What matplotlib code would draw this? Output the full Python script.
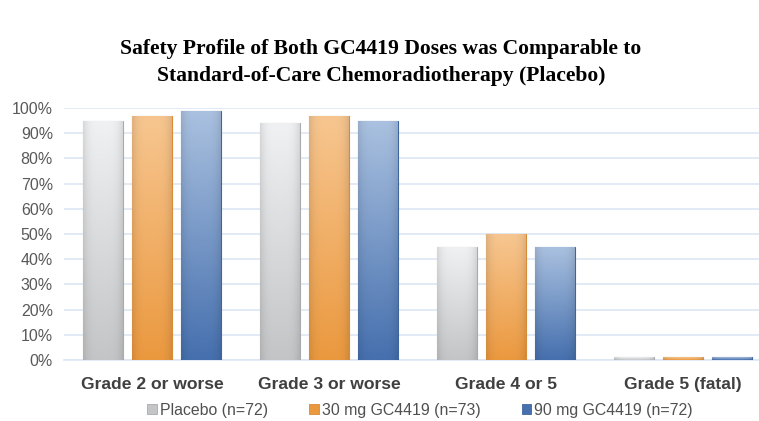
import numpy as np
import matplotlib.pyplot as plt
from matplotlib.colors import to_rgb

categories = ['Grade 2 or worse', 'Grade 3 or worse', 'Grade 4 or 5', 'Grade 5 (fatal)']
series_names = ['Placebo (n=72)', '30 mg GC4419 (n=73)', '90 mg GC4419 (n=72)']
placebo = [95, 94, 45, 1]
dose_30 = [97, 97, 50, 1]
dose_90 = [99, 95, 45, 1]

# top colour, bottom colour, edge colour
palettes = [('#f0f1f3', '#c4c5c7', '#a9aaac'),
            ('#f7c690', '#eb993f', '#d98a36'),
            ('#aac1e0', '#4670ae', '#3f659e')]


def shade_bar(ax, bar, top, bottom, edge):
    x, y = bar.get_x(), bar.get_y()
    w, h = bar.get_width(), bar.get_height()
    t = np.array(to_rgb(top))
    b = np.array(to_rgb(bottom))
    v = np.linspace(0, 1, 64)[:, None, None]
    img = t * (1 - v) + b * v
    # slightly darker at the sides
    u = np.linspace(-1, 1, 32)
    side = 1 - 0.10 * np.abs(u) ** 4
    img = np.clip(img * side[None, :, None], 0, 1)
    im = ax.imshow(img, extent=[x, x + w, y, y + h], aspect='auto',
                   origin='upper', zorder=3, interpolation='bilinear')
    im.set_clip_path(bar)
    bar.set_facecolor('none')
    bar.set_edgecolor(edge)
    bar.set_linewidth(0.8)


fig = plt.figure(figsize=(7.59, 4.21), dpi=100)
ax = fig.add_axes([64 / 759, 1 - 360 / 421, 707 / 759, 252 / 421])

x = np.arange(len(categories))
width = 0.226
step = 0.277
values = [placebo, dose_30, dose_90]
for i, vals in enumerate(values):
    bars = ax.bar(x + (i - 1) * step, vals, width, label=series_names[i],
                  color=palettes[i][1], zorder=3)
    for bar in bars:
        shade_bar(ax, bar, *palettes[i])

ax.set_xlim(-0.5, len(categories) - 0.5)
ax.set_ylim(0, 100)
ax.set_yticks(range(0, 101, 10))
ax.set_yticklabels([f'{v}%' for v in range(0, 101, 10)],
                   fontsize=11.5, color='#595959', family='Liberation Sans')
ax.set_xticks(x)
ax.set_xticklabels(categories, fontsize=12.6, fontweight='bold',
                   color='#404040', family='Liberation Sans')
ax.tick_params(axis='both', length=0)
ax.tick_params(axis='y', pad=8)
ax.tick_params(axis='x', pad=12)
ax.yaxis.grid(True, color='#dde7f3', linewidth=1.2, zorder=0)
ax.set_axisbelow(True)
for s in ['top', 'right', 'left']:
    ax.spines[s].set_visible(False)
ax.spines['bottom'].set_color('#dde7f3')
ax.spines['bottom'].set_linewidth(1.2)

handles = [plt.Rectangle((0, 0), 1, 1, facecolor=p[1], edgecolor=p[2], linewidth=0.6)
           for p in palettes]
fig.legend(handles, series_names, loc='center', bbox_to_anchor=(420 / 759, 1 - 410 / 421),
           ncol=3, frameon=False, prop={'family': 'Liberation Sans', 'size': 11.4},
           handlelength=0.6, handleheight=0.6, handletextpad=0.2, columnspacing=2.6,
           labelcolor='#505050')

fig.text(381 / 759, 1 - 49 / 421, 'Safety Profile of Both GC4419 Doses was Comparable to',
         ha='center', va='center', fontsize=15.6, fontweight='bold', family='Liberation Serif')
fig.text(381 / 759, 1 - 76 / 421, 'Standard-of-Care Chemoradiotherapy (Placebo)',
         ha='center', va='center', fontsize=15.6, fontweight='bold', family='Liberation Serif')

fig.savefig('out.png', dpi=100)
